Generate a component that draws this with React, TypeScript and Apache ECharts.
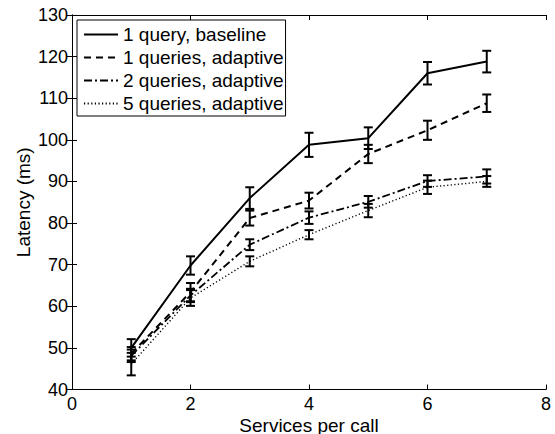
import React, { useEffect, useRef } from "react";
import * as echarts from "echarts";

const xs = [1, 2, 3, 4, 5, 6, 7];
const seriesNames = [
  "1 query, baseline",
  "1 queries, adaptive",
  "2 queries, adaptive",
  "5 queries, adaptive",
];
const baseline = [50, 69.8, 86, 98.8, 100.4, 116, 118.8];
const baselineErr = [2.1, 2.2, 2.6, 2.9, 2.6, 2.7, 2.6];
const adaptive1 = [48.6, 63.4, 81.2, 85.4, 96.6, 102.3, 108.8];
const adaptive1Err = [1.6, 2.2, 1.8, 1.9, 2.2, 2.3, 2.1];
const adaptive2 = [48.1, 62.6, 74.8, 81.3, 85.1, 90.1, 91.2];
const adaptive2Err = [1.5, 1.6, 1.3, 1.5, 1.4, 1.4, 1.7];
const adaptive5 = [46.1, 62.0, 70.8, 77.2, 83.0, 88.6, 90.0];
const adaptive5Err = [2.7, 1.9, 1.2, 1.1, 1.6, 1.6, 1.3];
const lineTypes: any[] = ["solid", [7, 5], [8, 3, 2, 3], [1.2, 2.4]];
const lineWidths = [2, 2, 1.8, 1.4];

const FONT = "Liberation Sans";

export default function App() {
  const ref = useRef<HTMLDivElement>(null);
  useEffect(() => {
    if (!ref.current) return;
    const chart = echarts.init(ref.current, null, { renderer: "svg" });
    const values = [baseline, adaptive1, adaptive2, adaptive5];
    const errs = [baselineErr, adaptive1Err, adaptive2Err, adaptive5Err];

    const lineSeries = values.map((v, i) => ({
      name: seriesNames[i],
      type: "line",
      data: xs.map((x, j) => [x, v[j]]),
      symbol: "none",
      showSymbol: false,
      lineStyle: { color: "#000", width: lineWidths[i], type: lineTypes[i] },
      itemStyle: { color: "#000" },
      z: 3,
    }));

    const errSeries = values.map((v, i) => ({
      type: "custom",
      data: xs.map((x, j) => [x, v[j] - errs[i][j], v[j] + errs[i][j]]),
      renderItem: (params: any, api: any) => {
        const x = api.value(0);
        const lo = api.coord([x, api.value(1)]);
        const hi = api.coord([x, api.value(2)]);
        const hw = 4.5;
        const st = { stroke: "#000", lineWidth: 2 };
        return {
          type: "group",
          children: [
            { type: "line", shape: { x1: lo[0], y1: lo[1], x2: hi[0], y2: hi[1] }, style: st },
            { type: "line", shape: { x1: lo[0] - hw, y1: lo[1], x2: lo[0] + hw, y2: lo[1] }, style: st },
            { type: "line", shape: { x1: hi[0] - hw, y1: hi[1], x2: hi[0] + hw, y2: hi[1] }, style: st },
          ],
        };
      },
      z: 4,
      silent: true,
    }));

    const axisCommon = {
      axisLine: { show: true, lineStyle: { color: "#000", width: 1 } },
      axisTick: { show: true, inside: true, length: 5, lineStyle: { color: "#000" } },
      splitLine: { show: false },
    };

    chart.setOption({
      animation: false,
      backgroundColor: "#fff",
      textStyle: { fontFamily: FONT },
      grid: { left: 72, right: 9, top: 15, bottom: 44.5, containLabel: false, outerBoundsMode: "none" },
      legend: {
        data: seriesNames,
        orient: "vertical",
        left: 77,
        top: 20,
        backgroundColor: "#fff",
        borderColor: "#000",
        borderWidth: 1,
        borderRadius: 0,
        padding: [5, 2, 3, 6],
        itemWidth: 34,
        itemHeight: 14,
        itemGap: 4,
        itemStyle: { opacity: 0 },
        textStyle: { fontFamily: FONT, fontSize: 19, color: "#000", lineHeight: 18 },
      },
      xAxis: [
        {
          type: "value",
          min: 0,
          max: 8,
          interval: 2,
          name: "Services per call",
          nameLocation: "middle",
          nameGap: 26,
          nameMoveOverlap: false,
          nameTextStyle: { fontFamily: FONT, fontSize: 19, color: "#000" },
          axisLabel: { fontFamily: FONT, fontSize: 18, color: "#000", margin: 5 },
          ...axisCommon,
        },
        {
          type: "value",
          position: "top",
          min: 0,
          max: 8,
          interval: 2,
          axisLabel: { show: false },
          ...axisCommon,
        },
      ],
      yAxis: [
        {
          type: "value",
          min: 40,
          max: 130,
          interval: 10,
          name: "Latency (ms)",
          nameLocation: "middle",
          nameGap: 39,
          nameMoveOverlap: false,
          nameTextStyle: { fontFamily: FONT, fontSize: 19, color: "#000" },
          axisLabel: { fontFamily: FONT, fontSize: 18, color: "#000", margin: 4 },
          ...axisCommon,
        },
        {
          type: "value",
          position: "right",
          min: 40,
          max: 130,
          interval: 10,
          axisLabel: { show: false },
          ...axisCommon,
        },
      ],
      series: [...lineSeries, ...errSeries],
    });
    return () => chart.dispose();
  }, []);
  return <div ref={ref} style={{ width: 555, height: 434, position: "absolute", left: 0, top: 0 }} />;
}
